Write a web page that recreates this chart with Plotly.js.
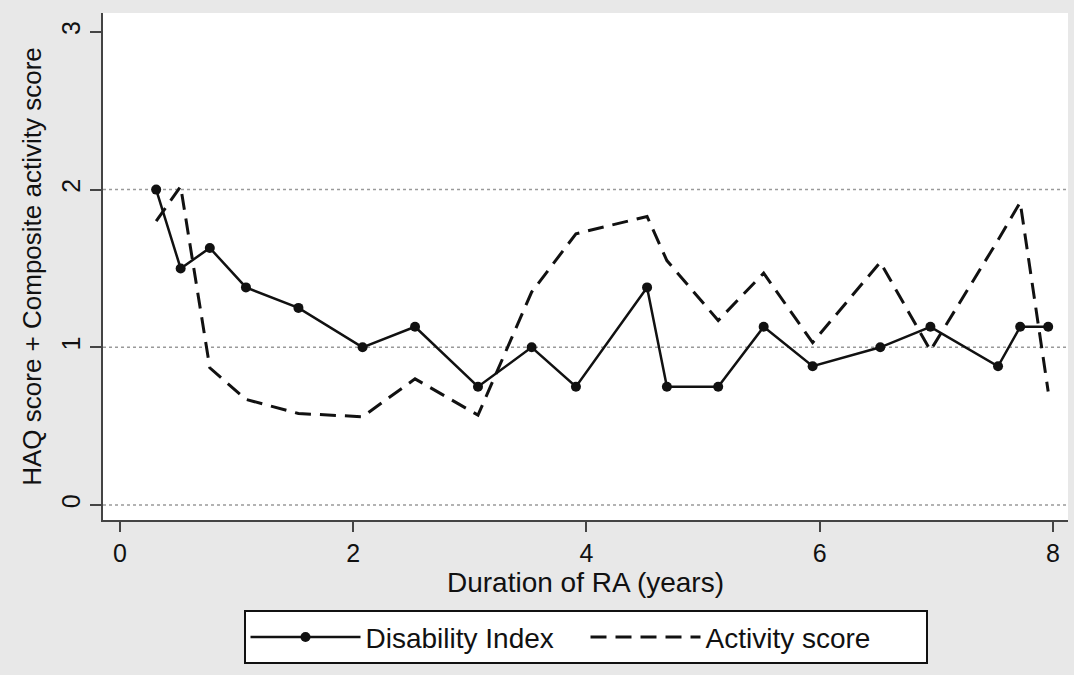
<!DOCTYPE html>
<html>
<head>
<meta charset="utf-8">
<script src="https://cdn.plot.ly/plotly-3.0.1.min.js"></script>
<style>html,body{margin:0;padding:0;background:#e8e8e8;}#chart{width:1074px;height:675px;}</style>
</head>
<body>
<div id="chart"></div>
<script>
// Data
const years = [0.31, 0.52, 0.77, 1.08, 1.53, 2.08, 2.53, 3.07, 3.53, 3.91, 4.52, 4.69, 5.13, 5.52, 5.94, 6.52, 6.95, 7.53, 7.72, 7.96];
const disabilityIndex = [2.0, 1.5, 1.63, 1.38, 1.25, 1.0, 1.13, 0.75, 1.0, 0.75, 1.38, 0.75, 0.75, 1.13, 0.88, 1.0, 1.13, 0.88, 1.13, 1.13];
const activityScore = [1.8, 2.02, 0.87, 0.67, 0.58, 0.56, 0.8, 0.57, 1.35, 1.72, 1.83, 1.55, 1.17, 1.47, 1.03, 1.54, 0.98, 1.68, 1.92, 0.72];
const xTicks = [0, 2, 4, 6, 8];
const yTicks = [0, 1, 2, 3];
const gridValues = [0, 1, 2];
const seriesNames = ['Disability Index', 'Activity score'];
const xTitle = 'Duration of RA (years)';
const yTitle = 'HAQ score + Composite activity score';

const FONT = '"Liberation Sans", Arial, Helvetica, sans-serif';

const traces = [
  {
    x: years, y: disabilityIndex, name: seriesNames[0],
    type: 'scatter', mode: 'lines+markers',
    line: {color: '#111', width: 2.5},
    marker: {color: '#111', size: 10, symbol: 'circle'}
  },
  {
    x: years, y: activityScore, name: seriesNames[1],
    type: 'scatter', mode: 'lines',
    line: {color: '#111', width: 3, dash: '16px,9px'}
  }
];

const shapes = gridValues.map(v => ({
  type: 'line', xref: 'paper', x0: 0, x1: 1, yref: 'y', y0: v, y1: v,
  line: {color: '#9a9a9a', width: 1.5, dash: 'dot'}, layer: 'below'
}));

const layout = {
  width: 1074, height: 675,
  paper_bgcolor: '#e8e8e8', plot_bgcolor: '#ffffff',
  margin: {l: 103, r: 6, t: 13, b: 155},
  font: {family: FONT, color: '#111', size: 25},
  showlegend: true,
  legend: {
    orientation: 'h', x: 0.5, xanchor: 'center', y: -0.178, yanchor: 'top',
    bgcolor: '#ffffff', bordercolor: '#111', borderwidth: 2,
    font: {family: FONT, size: 28, color: '#111'},
    itemwidth: 110, entrywidth: 215, entrywidthmode: 'pixels'
  },
  xaxis: {
    range: [-0.146, 8.13], tickvals: xTicks, ticktext: xTicks.map(String),
    showgrid: false, zeroline: false,
    showline: true, linecolor: '#444', linewidth: 2,
    ticks: 'outside', ticklen: 10, tickwidth: 2, tickcolor: '#444',
    tickfont: {family: FONT, size: 25, color: '#111'},
    title: {text: xTitle, font: {family: FONT, size: 28, color: '#111'}, standoff: 2}
  },
  yaxis: {
    range: [-0.095, 3.12], tickvals: yTicks, ticktext: yTicks.map(String),
    showgrid: false, zeroline: false,
    showline: true, linecolor: '#444', linewidth: 2,
    ticks: 'outside', ticklen: 11, tickwidth: 2, tickcolor: '#444',
    tickangle: -90,
    tickfont: {family: FONT, size: 25, color: '#111'},
    title: {text: yTitle, font: {family: FONT, size: 26, color: '#111'}, standoff: 8}
  },
  shapes: shapes
};

Plotly.newPlot('chart', traces, layout, {displayModeBar: false, staticPlot: true});
</script>
</body>
</html>
